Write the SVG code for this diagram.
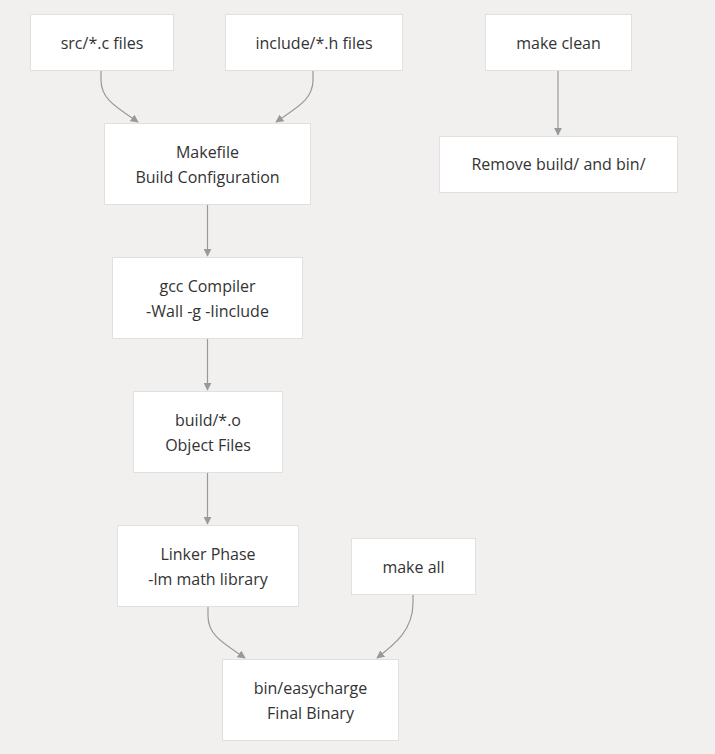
<svg xmlns="http://www.w3.org/2000/svg" width="715" height="754" viewBox="0 0 715 754">
<style>
.n rect{fill:#ffffff;stroke:#e0e0e0;stroke-width:1}
.n text{font-family:"Open Sans","Noto Sans","Liberation Sans",sans-serif;font-size:16px;fill:#333333;text-anchor:middle;dominant-baseline:central}
.e path{fill:none;stroke:#999999;stroke-width:1.2}
</style>
<defs>
<marker id="ah" viewBox="0 0 10 10" refX="9" refY="5" markerWidth="8" markerHeight="8" markerUnits="userSpaceOnUse" orient="auto">
<path d="M0,0 L10,5 L0,10 z" fill="#999999"/>
</marker>
</defs>
<rect width="715" height="754" fill="#f2f0ee"/>
<g class="e">
<path d="M101,71 L101,80 C101,100 118,108 138,122" marker-end="url(#ah)"/>
<path d="M313,71 L313,80 C313,100 296,108 276,122" marker-end="url(#ah)"/>
<path d="M558,71 L558,135" marker-end="url(#ah)"/>
<path d="M207.5,205 L207.5,256" marker-end="url(#ah)"/>
<path d="M207.5,339 L207.5,390" marker-end="url(#ah)"/>
<path d="M207.5,473 L207.5,524" marker-end="url(#ah)"/>
<path d="M208,607 L208,616 C208,636 225,644 245,658" marker-end="url(#ah)"/>
<path d="M413,594 L413,603 C413,630 395,644 377,658" marker-end="url(#ah)"/>
</g>
<g id="src" class="n"><rect x="30.5" y="14.5" width="143" height="56"/><text x="102" y="42.5">src/*.c files</text></g>
<g id="include" class="n"><rect x="225.5" y="14.5" width="177" height="56"/><text x="314" y="42.5">include/*.h files</text></g>
<g id="clean" class="n"><rect x="485.5" y="14.5" width="146" height="56"/><text x="558.5" y="42.5">make clean</text></g>
<g id="makefile" class="n"><rect x="104.5" y="123.5" width="206" height="81"/><text x="207.5" y="152">Makefile</text><text x="207.5" y="177">Build Configuration</text></g>
<g id="remove" class="n"><rect x="439.5" y="136.5" width="238" height="56"/><text x="558.5" y="164">Remove build/ and bin/</text></g>
<g id="gcc" class="n"><rect x="112.5" y="257.5" width="190" height="81"/><text x="207.5" y="286">gcc Compiler</text><text x="207.5" y="311">-Wall -g -Iinclude</text></g>
<g id="obj" class="n"><rect x="133.5" y="391.5" width="149" height="81"/><text x="208" y="420">build/*.o</text><text x="208" y="445">Object Files</text></g>
<g id="linker" class="n"><rect x="117.5" y="525.5" width="181" height="81"/><text x="208" y="554">Linker Phase</text><text x="208" y="579">-lm math library</text></g>
<g id="all" class="n"><rect x="351.5" y="538.5" width="124" height="56"/><text x="413.5" y="566.5">make all</text></g>
<g id="bin" class="n"><rect x="222.5" y="659.5" width="176" height="81"/><text x="310.5" y="688">bin/easycharge</text><text x="310.5" y="713">Final Binary</text></g>
</svg>
